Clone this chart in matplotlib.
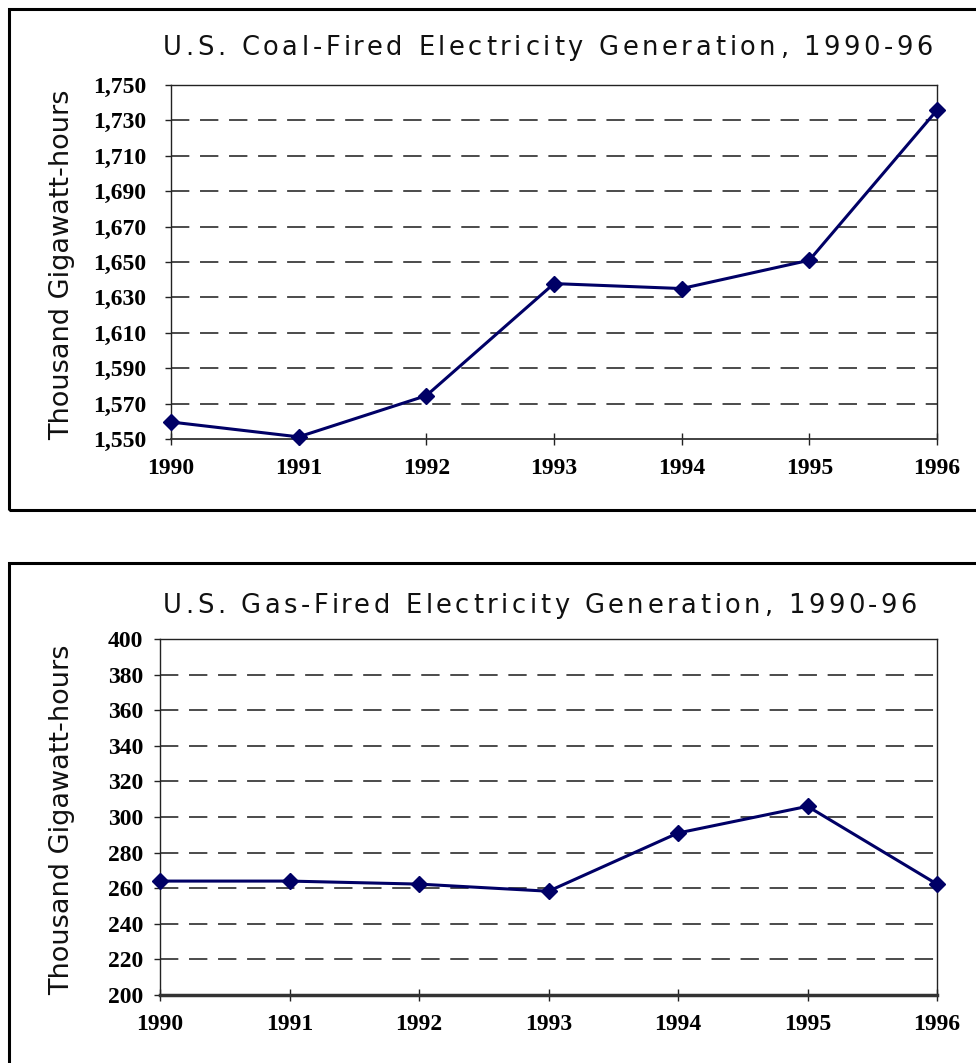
import matplotlib
matplotlib.use("Agg")
import matplotlib.pyplot as plt
from matplotlib.patches import Rectangle
from matplotlib.font_manager import FontProperties

years = [1990, 1991, 1992, 1993, 1994, 1995, 1996]
coal = [1559.6, 1551.2, 1574.5, 1637.8, 1635.0, 1651.0, 1735.8]
gas = [264.0, 264.0, 262.3, 258.3, 291.0, 306.0, 262.3]
coal_ticks = list(range(1550, 1751, 20))
gas_ticks = list(range(200, 401, 20))
coal_title = "U.S. Coal-Fired Electricity Generation, 1990-96"
gas_title = "U.S. Gas-Fired Electricity Generation, 1990-96"
ylabel = "Thousand Gigawatt-hours"

W, H = 976, 1063
fig = plt.figure(figsize=(W / 100, H / 100), dpi=100)
renderer = fig.canvas.get_renderer()

def fx(px):
    return px / W

def fy(py):
    return 1 - py / H

LINE = "#000066"
SERIF = ["Liberation Serif", "DejaVu Serif"]


def text_w(s, fp):
    w, h, d = renderer.get_text_width_height_descent(s, fp, ismath=False)
    return w


def spaced_title(s, start, end, base, fs):
    """Draw s with letter spacing so it spans from start to end (pixels)."""
    fp = FontProperties(family="DejaVu Sans", size=fs)
    xw = text_w("x", fp)
    offs = [text_w(s[:i] + "x", fp) - xw for i in range(len(s))]
    natural = text_w(s, fp)
    track = (end - start - natural) / (len(s) - 1)
    for i, ch in enumerate(s):
        if ch == " ":
            continue
        fig.text(fx(start + offs[i] + track * i), fy(base), ch, ha="left", va="baseline",
                 fontproperties=fp, color="#111111")


def make_panel(x0, x1, ytop, ybot, vals, ticks, fmt, title, t_x0, t_x1, t_base,
               box_top, box_bot, bottom_lw, ypad):
    ax = fig.add_axes([fx(x0), fy(ybot), fx(x1) - fx(x0), fy(ytop) - fy(ybot)])
    ax.set_xlim(years[0], years[-1])
    ax.set_ylim(ticks[0], ticks[-1])
    for t in ticks[1:-1]:
        ax.axhline(t, color="#1a1a1a", lw=1.1, ls=(0, (12, 7)), zorder=1)
    ax.plot(years, vals, color=LINE, lw=2.2, marker="D", ms=8.5,
            markerfacecolor=LINE, markeredgecolor=LINE, zorder=3, clip_on=False)
    ax.set_xticks(years)
    ax.set_xticklabels([str(y) for y in years], fontfamily=SERIF, fontweight="bold", fontsize=17)
    ax.set_yticks(ticks)
    ax.set_yticklabels([fmt(t) for t in ticks], fontfamily=SERIF, fontweight="bold", fontsize=17)
    ax.tick_params(axis="y", direction="out", length=4, width=1, color="#222222", pad=ypad)
    ax.tick_params(axis="x", direction="inout", length=9, width=1, color="#222222", pad=9)
    for s in ["left", "right", "top"]:
        ax.spines[s].set_linewidth(1.0)
        ax.spines[s].set_color("#222222")
    ax.spines["bottom"].set_linewidth(bottom_lw)
    ax.spines["bottom"].set_color("#333333")
    spaced_title(title, t_x0, t_x1, t_base, 18.5)
    fig.text(fx(69), fy((ytop + ybot) / 2 + 3), ylabel, rotation=90, rotation_mode="anchor",
             ha="center", va="baseline", fontfamily="DejaVu Sans", fontsize=19.5, color="#111111")
    fig.add_artist(Rectangle((fx(9), fy(box_bot)), 1.2, fy(box_top) - fy(box_bot),
                             transform=fig.transFigure, fill=False, lw=2.2, ec="black"))
    return ax

make_panel(171, 937, 85, 439, coal, coal_ticks, lambda t: f"{t:,}",
           coal_title, 163, 933, 55, 9, 510, 1.3, 14)
make_panel(160, 937, 639, 995, gas, gas_ticks, lambda t: f"{t}",
           gas_title, 163, 917, 613, 563, 1100, 2.5, 8)

fig.savefig("out.png", dpi=100, facecolor="white")
